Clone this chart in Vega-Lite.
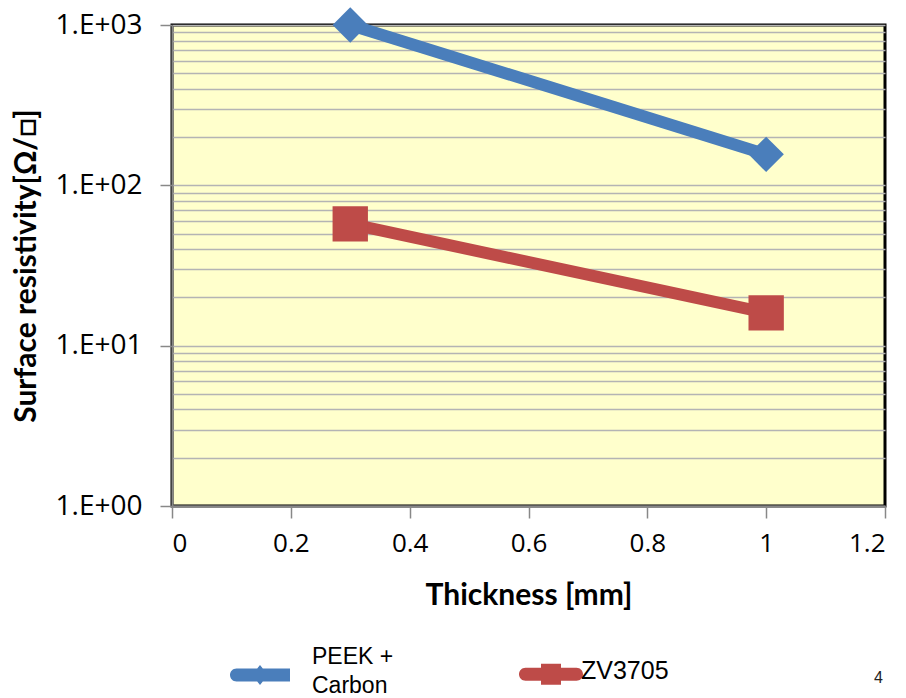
{
  "$schema": "https://vega.github.io/schema/vega-lite/v6.json",
  "width": 713,
  "height": 481,
  "autosize": {"type": "none"},
  "padding": {"left": 172, "top": 25, "right": 21, "bottom": 192},
  "background": "white",
  "title": {"text": "4", "orient": "top", "anchor": "end", "frame": "group", "font": "Liberation Sans", "fontSize": 16, "fontWeight": "normal", "color": "#222222", "offset": -685, "dx": -2},
  "config": {
    "view": {"fill": "#FFFFCC", "stroke": "black", "strokeWidth": 3}
  },
  "data": {
    "values": [
      {"series": "PEEK + Carbon", "thickness": 0.3, "resistivity": 1000},
      {"series": "PEEK + Carbon", "thickness": 1.0, "resistivity": 156},
      {"series": "ZV3705", "thickness": 0.3, "resistivity": 57.5},
      {"series": "ZV3705", "thickness": 1.0, "resistivity": 16}
    ]
  },
  "encoding": {
    "x": {
      "field": "thickness", "type": "quantitative",
      "scale": {"domain": [0, 1.2], "nice": false, "zero": false},
      "axis": {
        "title": "Thickness [mm]", "values": [0, 0.2, 0.4, 0.6, 0.8, 1, 1.2],
        "labelExpr": "format(datum.value, '~g')",
        "grid": false, "domainColor": "#888888", "domainWidth": 2,
        "tickColor": "#888888", "tickWidth": 1.5, "tickSize": 12,
        "labelFont": "Open Sans", "labelFontSize": 26, "labelColor": "black", "labelPadding": 12,
        "titleFont": "Lato", "titleFontSize": 30, "titleFontWeight": "bold", "titleColor": "black", "titlePadding": 24
      }
    },
    "y": {
      "field": "resistivity", "type": "quantitative",
      "scale": {"type": "log", "domain": [1, 1000], "nice": false},
      "axis": {
        "title": "Surface resistivity[Ω/□]",
        "values": [1,2,3,4,5,6,7,8,9,10,20,30,40,50,60,70,80,90,100,200,300,400,500,600,700,800,900,1000],
        "labelExpr": "abs(log(datum.value)/LN10 - round(log(datum.value)/LN10)) < 0.001 ? '1.E+0' + round(log(datum.value)/LN10) : ''",
        "grid": true, "gridColor": "#B4B4B4", "gridWidth": 1.5,
        "tickOpacity": {"condition": {"test": "abs(log(datum.value)/LN10 - round(log(datum.value)/LN10)) < 0.001", "value": 1}, "value": 0},
        "tickColor": "#888888", "tickWidth": 1.5, "tickSize": 12,
        "domainColor": "#888888", "domainWidth": 2,
        "labelFont": "Open Sans", "labelFontSize": 28, "labelColor": "black", "labelPadding": 18,
        "titleFont": "Lato", "titleFontSize": 30, "titleFontWeight": "bold", "titleColor": "black", "titlePadding": 14
      }
    },
    "color": {
      "field": "series", "type": "nominal",
      "scale": {"domain": ["PEEK + Carbon", "ZV3705"], "range": ["#4A7EBB", "#BE4B48"]},
      "legend": {
        "title": null, "orient": "none", "legendX": 38, "legendY": 599,
        "direction": "horizontal", "columns": 2, "columnPadding": 107,
        "symbolSize": 10000,
        "symbolType": "M-0.6,-0.13 L0.6,-0.13 L0.6,0.13 L-0.6,0.13 Z",
        "labelFont": "Liberation Sans", "labelFontSize": 25, "labelColor": "black", "labelOffset": 2,
        "labelExpr": "datum.label == 'PEEK + Carbon' ? ['PEEK +', 'Carbon'] : [' ', datum.label, ' ']",
        "encode": {
          "symbols": {
            "update": {
              "shape": {"signal": "datum.value == 'PEEK + Carbon' ? 'M-0.47,-0.13 L0.6,-0.13 L0.6,0.13 L-0.47,0.13 A0.13,0.13 0 0 1 -0.47,-0.13 Z M0,-0.2 L0.16,0 L0,0.2 L-0.16,0 Z' : 'M-0.51,-0.13 L0.51,-0.13 A0.13,0.13 0 0 1 0.51,0.13 L-0.51,0.13 A0.13,0.13 0 0 1 -0.51,-0.13 Z M-0.2,-0.21 L0.2,-0.21 L0.2,0.21 L-0.2,0.21 Z'"},
              "fill": {"scale": "color", "field": "value"},
              "fillOpacity": {"value": 1},
              "opacity": {"value": 1},
              "strokeWidth": {"value": 0}
            }
          },
          "labels": {
            "update": {
              "fontSize": {"signal": "datum.value == 'PEEK + Carbon' ? 23 : 25"},
              "lineHeight": {"signal": "datum.value == 'PEEK + Carbon' ? 29 : 14.5"},
              "dy": {"signal": "datum.value == 'PEEK + Carbon' ? -18 : -17.5"},
              "dx": {"signal": "datum.value == 'PEEK + Carbon' ? 0 : -22"}
            }
          }
        }
      }
    }
  },
  "layer": [
    {"mark": {"type": "line", "strokeWidth": 12, "clip": false}},
    {
      "transform": [{"filter": "datum.series == 'PEEK + Carbon'"}],
      "mark": {"type": "point", "shape": "diamond", "filled": true, "opacity": 1, "size": 1250, "clip": false}
    },
    {
      "transform": [{"filter": "datum.series == 'ZV3705'"}],
      "mark": {"type": "point", "shape": "square", "filled": true, "opacity": 1, "size": 1250, "clip": false}
    }
  ]
}
